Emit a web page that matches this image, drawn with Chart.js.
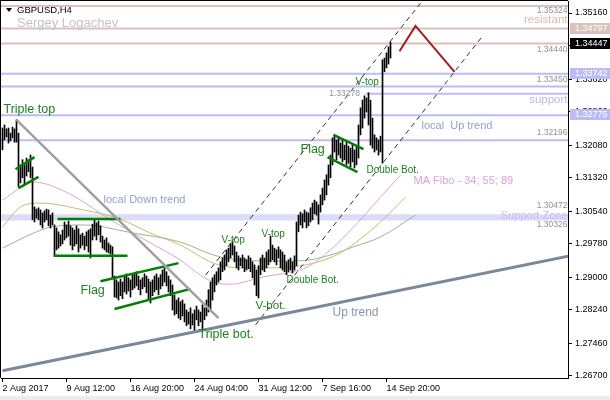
<!DOCTYPE html>
<html>
<head>
<meta charset="utf-8">
<script src="https://cdn.jsdelivr.net/npm/chart.js@4/dist/chart.umd.min.js"></script>
<style>
  html, body { margin: 0; padding: 0; background: #fff; }
  canvas { display: block; }
</style>
</head>
<body>
<canvas id="chart" width="610" height="400"></canvas>
<script>
// ---- GBPUSD H4 bars (one per 4 hours, from 2 Aug 2017) ----
const barHigh = [
  1.3248, 1.3255, 1.3246, 1.3248, 1.3236, 1.3250, 1.3246, 1.3267, 1.3236,
  1.3162, 1.3174, 1.3162, 1.3178, 1.3174, 1.3185, 1.3157,
  1.3064, 1.3059, 1.3062, 1.3057, 1.3050, 1.3055, 1.3059, 1.3057, 1.3045, 1.3050,
  1.3022, 1.3015, 1.3006, 1.2999, 1.3010, 1.3029, 1.3022, 1.3031, 1.3020, 1.3015,
  1.3010, 1.3020, 1.3013, 1.2999, 1.3003, 1.2996, 1.3006, 1.3010, 1.3013, 1.3024,
  1.3034, 1.3027, 1.3031, 1.3020, 1.2996, 1.2987, 1.2992, 1.2980, 1.2975, 1.2971,
  1.2903, 1.2894, 1.2889, 1.2896, 1.2889, 1.2903, 1.2908, 1.2899, 1.2894, 1.2906,
  1.2910, 1.2913, 1.2903, 1.2894, 1.2899, 1.2908, 1.2903, 1.2896, 1.2889, 1.2894,
  1.2903, 1.2908, 1.2899, 1.2906, 1.2917, 1.2922, 1.2913, 1.2903, 1.2894,
  1.2882, 1.2859, 1.2847, 1.2852, 1.2843, 1.2847, 1.2838, 1.2824, 1.2819, 1.2829,
  1.2815, 1.2824, 1.2833, 1.2824, 1.2819, 1.2836, 1.2829, 1.2847, 1.2871,
  1.2889, 1.2899, 1.2906, 1.2913, 1.2922, 1.2936, 1.2945, 1.2952, 1.2964, 1.2968,
  1.2978, 1.2985, 1.2973, 1.2959, 1.2950, 1.2945, 1.2952, 1.2945, 1.2941, 1.2950,
  1.2945, 1.2936, 1.2929, 1.2917, 1.2927, 1.2945, 1.2952, 1.2945, 1.2959, 1.2964,
  1.2996, 1.2975, 1.2968, 1.2964, 1.2971, 1.2964, 1.2959, 1.2952, 1.2936, 1.2941,
  1.2945, 1.2936, 1.2950, 1.3029,
  1.3045, 1.3052, 1.3048, 1.3057, 1.3052, 1.3050, 1.3062, 1.3073, 1.3080, 1.3076,
  1.3069, 1.3092, 1.3108, 1.3127, 1.3139, 1.3162, 1.3185, 1.3225,
  1.3232, 1.3220, 1.3227, 1.3213, 1.3220, 1.3208, 1.3215, 1.3206, 1.3201, 1.3208,
  1.3197, 1.3204, 1.3255, 1.3295, 1.3313, 1.3323, 1.3318, 1.3330, 1.3313, 1.3271,
  1.3232, 1.3225, 1.3220, 1.3229, 1.3407, 1.3411, 1.3423, 1.3437, 1.3448
];
const barLow = [
  1.3197, 1.3220, 1.3227, 1.3213, 1.3218, 1.3225, 1.3215, 1.3215, 1.3111,
  1.3120, 1.3132, 1.3115, 1.3136, 1.3146, 1.3132, 1.3034,
  1.3029, 1.3038, 1.3034, 1.3022, 1.3015, 1.3029, 1.3034, 1.3020, 1.3015, 1.3022,
  1.2952, 1.2964, 1.2968, 1.2973, 1.2978, 1.2987, 1.2992, 1.2996, 1.2975, 1.2964,
  1.2973, 1.2978, 1.2959, 1.2968, 1.2975, 1.2964, 1.2973, 1.2959, 1.2945, 1.2987,
  1.2996, 1.2987, 1.2999, 1.2982, 1.2968, 1.2964, 1.2959, 1.2957, 1.2954, 1.2899,
  1.2854, 1.2852, 1.2847, 1.2857, 1.2850, 1.2866, 1.2861, 1.2868, 1.2854, 1.2871,
  1.2875, 1.2880, 1.2871, 1.2859, 1.2873, 1.2878, 1.2864, 1.2847, 1.2840, 1.2857,
  1.2866, 1.2871, 1.2859, 1.2873, 1.2880, 1.2889, 1.2880, 1.2866, 1.2857,
  1.2824, 1.2812, 1.2815, 1.2805, 1.2801, 1.2810, 1.2796, 1.2787, 1.2791, 1.2780,
  1.2789, 1.2775, 1.2801, 1.2787, 1.2796, 1.2777, 1.2801, 1.2810, 1.2819,
  1.2824, 1.2847, 1.2866, 1.2882, 1.2889, 1.2894, 1.2913, 1.2917, 1.2927, 1.2936,
  1.2945, 1.2952, 1.2936, 1.2922, 1.2917, 1.2927, 1.2922, 1.2913, 1.2917, 1.2920,
  1.2913, 1.2899, 1.2882, 1.2857, 1.2852, 1.2906, 1.2917, 1.2913, 1.2922, 1.2929,
  1.2936, 1.2941, 1.2936, 1.2929, 1.2945, 1.2922, 1.2917, 1.2913, 1.2906, 1.2913,
  1.2917, 1.2910, 1.2917, 1.2927,
  1.3006, 1.3022, 1.3015, 1.3029, 1.3015, 1.3020, 1.3029, 1.3034, 1.3048, 1.3045,
  1.3024, 1.3052, 1.3069, 1.3080, 1.3092, 1.3115, 1.3132, 1.3162,
  1.3192, 1.3174, 1.3185, 1.3178, 1.3169, 1.3174, 1.3162, 1.3166, 1.3157, 1.3169,
  1.3155, 1.3162, 1.3178, 1.3232, 1.3248, 1.3271, 1.3285, 1.3255, 1.3208, 1.3201,
  1.3192, 1.3197, 1.3185, 1.3192, 1.3166, 1.3379, 1.3388, 1.3397, 1.3411
];

const xTickIdx = [0, 32, 64, 96, 128, 160, 192];
const xTickLabels = ['2 Aug 2017', '9 Aug 12:00', '16 Aug 20:00', '24 Aug 04:00', '31 Aug 12:00', '7 Sep 16:00', '14 Sep 20:00'];
const yTickVals = [1.35160, 1.34400, 1.33620, 1.32860, 1.32080, 1.31320, 1.30540, 1.29780, 1.29000, 1.28240, 1.27460, 1.26700];

// MA Fibo 34 / 55 / 89 (read at a few bars)
const ma34Idx = [0, 15.5, 32.5, 54, 74, 89, 99, 105.5, 114, 130.5, 144, 152.5, 164, 177.5, 189, 199];
const ma34Val = [1.3080, 1.3122, 1.3097, 1.3034, 1.2980, 1.2940, 1.2905, 1.2889, 1.2884, 1.2901, 1.2912, 1.2924, 1.2964, 1.3027, 1.3087, 1.3138];
const ma55Idx = [0, 9, 19, 40.5, 57.5, 74, 89, 105.5, 119, 130.5, 144, 155.5, 169, 182.5, 189, 201.5];
const ma55Val = [1.3017, 1.3064, 1.3073, 1.3057, 1.3038, 1.3003, 1.2975, 1.2933, 1.2922, 1.2922, 1.2924, 1.2933, 1.2957, 1.3003, 1.3029, 1.3087];
const ma89Idx = [0, 15.5, 24, 40.5, 65.5, 89, 105.5, 119, 139, 152.5, 164, 175.5, 189, 206.5];
const ma89Val = [1.2968, 1.3003, 1.3017, 1.3022, 1.3003, 1.2982, 1.2952, 1.2940, 1.2938, 1.2940, 1.2952, 1.2971, 1.2994, 1.3045];

// price levels
const resistLevels = [1.35324, 1.34797, 1.34447];
const supportLevels = [1.33742, 1.33450, 1.32775, 1.32196];
const vTopLevel = 1.33278;
const vTopLevelFrom = 181.5;
const supportZone = [1.30326, 1.30472];

// trend lines: [bar index, price]
const downTrend = [[7, 1.3267], [108, 1.2805]];
const upTrend = [[0, 1.2682], [283.5, 1.2950]];
const channelA = [[101.5, 1.2905], [209, 1.3539]];
const channelB = [[126.5, 1.2789], [240.5, 1.3465]];
const forecast = [[198.5, 1.3427], [206.5, 1.3486], [226, 1.3379]];
const flagLines = [
  [[6.5, 1.3152], [16, 1.3180]],
  [[8, 1.3108], [18, 1.3134]],
  [[27.5, 1.3036], [59, 1.3036]],
  [[25.5, 1.2950], [62.5, 1.2950]],
  [[49, 1.2891], [88, 1.2933]],
  [[56, 1.2826], [94, 1.2873]],
  [[165.5, 1.3232], [180.5, 1.3199]],
  [[162.5, 1.3180], [177.5, 1.3145]]
];

// axis price tags
const axisTags = [
  { p: 1.34797, bg: '#d9c2ba', fg: '#fff' },
  { p: 1.34447, bg: '#000', fg: '#fff' },
  { p: 1.33742, bg: '#bcbcf5', fg: '#fff' },
  { p: 1.32775, bg: '#bcbcf5', fg: '#fff' }
];

const PAT = '#208020';
const notes = [
  { t: 'Triple top', i: 0.5, p: 1.3290, c: PAT, s: 12.5 },
  { t: 'local Down trend', i: 50.5, p: 1.3080, c: '#8ea4c8', s: 11 },
  { t: 'Flag', i: 39, p: 1.2868, c: PAT, s: 12.5 },
  { t: 'V-top', i: 109.5, p: 1.2987, c: PAT, s: 10 },
  { t: 'V-top', i: 129.5, p: 1.3001, c: PAT, s: 10 },
  { t: 'Double Bot.', i: 142, p: 1.2894, c: PAT, s: 10 },
  { t: 'V-bot.', i: 126.5, p: 1.2833, c: PAT, s: 11.5 },
  { t: 'Triple bot.', i: 98, p: 1.2766, c: PAT, s: 12.5 },
  { t: 'Up trend', i: 165, p: 1.2817, c: '#8a96a8', s: 12 },
  { t: 'Flag', i: 149, p: 1.3197, c: PAT, s: 12.5 },
  { t: 'V-top', i: 176.5, p: 1.3355, c: PAT, s: 10 },
  { t: '1.33278', i: 178.75, p: 1.3327, c: '#909090', s: 8.5, a: 'right' },
  { t: 'Double Bot.', i: 182, p: 1.3150, c: PAT, s: 10 },
  { t: 'local  Up trend', i: 209.5, p: 1.3253, c: '#8ea4c8', s: 11 },
  { t: 'MA Fibo - 34; 55; 89', i: 205.5, p: 1.3124, c: '#e0a0e0', s: 11 },
  { t: '1.35324', i: 282.5, p: 1.3521, c: '#909090', s: 8.5, a: 'right' },
  { t: 'resistant', i: 282.5, p: 1.3500, c: '#d8b8b0', s: 11.5, a: 'right' },
  { t: '1.34440', i: 282.5, p: 1.3430, c: '#909090', s: 8.5, a: 'right' },
  { t: '1.33450', i: 282.5, p: 1.3360, c: '#909090', s: 8.5, a: 'right' },
  { t: 'support', i: 282.5, p: 1.3313, c: '#b8b8f0', s: 11.5, a: 'right' },
  { t: '1.32196', i: 282.5, p: 1.3236, c: '#909090', s: 8.5, a: 'right' },
  { t: '1.30472', i: 282.5, p: 1.3066, c: '#909090', s: 8.5, a: 'right' },
  { t: 'Support Zone', i: 282.5, p: 1.3043, c: '#c0c0f0', s: 11, a: 'right' },
  { t: '1.30326', i: 282.5, p: 1.3022, c: '#909090', s: 8.5, a: 'right' }
];

const FONT = 'Liberation Sans, Arial, sans-serif';
const X_MIN = -0.75, X_MAX = 282.75;

function pts(list) { return list.map(([x, y]) => ({ x, y })); }
function seg(list, color, width, extra) {
  return Object.assign({
    type: 'line', data: pts(list), borderColor: color, borderWidth: width,
    pointRadius: 0, fill: false, tension: 0, order: 2
  }, extra || {});
}
function level(p, color, from) {
  return seg([[from === undefined ? X_MIN - 1 : from, p], [X_MAX + 1, p]], color, 2, { order: 9 });
}
function ma(idx, val, color) {
  return {
    type: 'line', data: idx.map((x, k) => ({ x, y: val[k] })), borderColor: color, borderWidth: 1,
    pointRadius: 0, fill: false, tension: 0.4, cubicInterpolationMode: 'monotone', order: 8
  };
}

const datasets = [
  {
    type: 'line',
    data: [{ x: X_MIN - 1, y: supportZone[1] }, { x: X_MAX + 1, y: supportZone[1] }],
    borderWidth: 0, pointRadius: 0, backgroundColor: '#dcdcf8',
    fill: { value: supportZone[0] }, order: 10
  },
  ...resistLevels.map(p => level(p, '#d9c2ba')),
  ...supportLevels.map(p => level(p, '#bcbcf5')),
  level(vTopLevel, '#bcbcf5', vTopLevelFrom),
  ma(ma34Idx, ma34Val, '#dda0dd'),
  ma(ma55Idx, ma55Val, '#c8bb6e'),
  ma(ma89Idx, ma89Val, '#8fbc8f'),
  {
    type: 'bar',
    data: barHigh.map((h, i) => ({ x: i, y: [barLow[i], h] })),
    backgroundColor: '#000', barThickness: 1, borderWidth: 0, order: 5
  },
  seg(downTrend, '#a0a0a0', 2.5),
  seg(upTrend, '#7b8898', 3),
  seg(channelA, '#303030', 1, { borderDash: [5, 4] }),
  seg(channelB, '#303030', 1, { borderDash: [5, 4] }),
  ...flagLines.map(l => seg(l, '#008000', 2.5)),
  seg(forecast, '#a51c1c', 2)
];

const overlay = {
  id: 'overlay',
  afterDatasetsDraw(chart) {
    const { ctx, chartArea: a, scales: { x, y } } = chart;
    ctx.save();
    ctx.beginPath();
    ctx.rect(a.left, a.top, a.right - a.left, a.bottom - a.top);
    ctx.clip();
    ctx.textBaseline = 'middle';
    notes.forEach(n => {
      ctx.font = n.s + 'px ' + FONT;
      ctx.fillStyle = n.c;
      ctx.textAlign = n.a || 'left';
      ctx.fillText(n.t, x.getPixelForValue(n.i), y.getPixelForValue(n.p));
    });
    ctx.restore();
  },
  afterDraw(chart) {
    const { ctx, chartArea: a, scales: { y } } = chart;
    ctx.save();
    // window frame and bottom strip
    ctx.fillStyle = '#ececec';
    ctx.fillRect(0, 396, 610, 4);
    ctx.fillStyle = '#000';
    ctx.fillRect(0, 0, a.right, 1);
    ctx.fillRect(0, 0, 1, a.bottom);
    // header
    ctx.beginPath();
    ctx.moveTo(6, 8); ctx.lineTo(12, 8); ctx.lineTo(9, 12); ctx.closePath();
    ctx.fill();
    ctx.textBaseline = 'middle';
    ctx.textAlign = 'left';
    ctx.font = '9.5px ' + FONT;
    ctx.fillText('GBPUSD,H4', 17, 10);
    ctx.font = '13px ' + FONT;
    ctx.fillStyle = '#c4c4c4';
    ctx.fillText('Sergey Logachev', 17, 23);
    // price tags on the axis
    ctx.font = '9px ' + FONT;
    axisTags.forEach(tag => {
      const py = Math.round(y.getPixelForValue(tag.p));
      ctx.fillStyle = tag.bg;
      ctx.fillRect(a.right + 2, py - 6, 610 - a.right - 2, 11);
      ctx.fillStyle = tag.fg;
      ctx.fillText(tag.p.toFixed(5), a.right + 7, py);
    });
    ctx.restore();
  }
};

new Chart(document.getElementById('chart'), {
  type: 'bar',
  data: { datasets },
  options: {
    responsive: false,
    animation: false,
    devicePixelRatio: 1,
    layout: { padding: { left: 1, top: 1, right: 0, bottom: 0 } },
    plugins: { legend: { display: false }, tooltip: { enabled: false } },
    scales: {
      x: {
        type: 'linear', min: X_MIN, max: X_MAX, offset: false,
        grid: { offset: false, drawOnChartArea: false, color: '#000', tickLength: 4 },
        border: { color: '#000' },
        ticks: {
          autoSkip: false, maxRotation: 0, align: 'start', padding: 1, color: '#000',
          font: { family: FONT, size: 9 },
          callback: (v, k) => xTickLabels[k]
        },
        afterBuildTicks: s => { s.ticks = xTickIdx.map(v => ({ value: v })); },
        afterFit: s => { s.height = 22; s.paddingLeft = 0; s.paddingRight = 0; }
      },
      y: {
        position: 'right', min: 1.26653, max: 1.35440,
        grid: { drawOnChartArea: false, color: '#000', tickLength: 4 },
        border: { color: '#000' },
        ticks: {
          padding: 3, color: '#000', font: { family: FONT, size: 9 },
          callback: v => v.toFixed(5)
        },
        afterBuildTicks: s => { s.ticks = yTickVals.map(v => ({ value: v })); },
        afterFit: s => { s.width = 42; s.paddingTop = 0; s.paddingBottom = 0; }
      }
    }
  },
  plugins: [overlay]
});
</script>
</body>
</html>
